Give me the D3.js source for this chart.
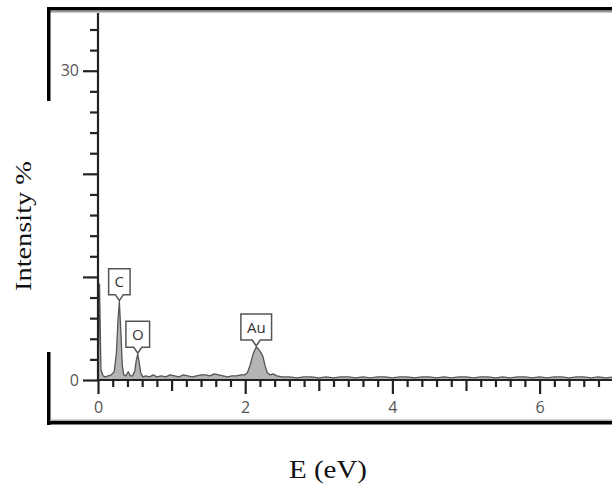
<!DOCTYPE html>
<html>
<head>
<meta charset="utf-8">
<script src="https://cdn.jsdelivr.net/npm/d3@7"></script>
<style>
  html, body { margin: 0; padding: 0; background: #fff; }
  svg { display: block; }
</style>
</head>
<body>
<svg id="chart" width="612" height="484"></svg>
<script>
// EDS spectrum: energy vs. intensity
const energy = [
  0.00, 0.02, 0.04, 0.07, 0.10, 0.14, 0.18, 0.22, 0.25, 0.27, 0.29, 0.31, 0.33, 0.35,
  0.38, 0.41, 0.44, 0.47, 0.50, 0.52, 0.54, 0.56, 0.58, 0.61, 0.65, 0.70, 0.75, 0.80,
  0.86, 0.92, 0.98, 1.04, 1.10, 1.16, 1.22, 1.28, 1.34, 1.40, 1.46, 1.52, 1.58, 1.64,
  1.70, 1.76, 1.82, 1.88, 1.94, 1.99, 2.03, 2.07, 2.11, 2.15, 2.18, 2.21, 2.24, 2.27,
  2.30, 2.34, 2.38, 2.43, 2.50, 2.60, 2.70, 2.80, 2.90, 3.00, 3.10, 3.20, 3.30, 3.40,
  3.50, 3.60, 3.70, 3.80, 3.90, 4.00, 4.10, 4.20, 4.30, 4.40, 4.50, 4.60, 4.70, 4.80,
  4.90, 5.00, 5.10, 5.20, 5.30, 5.40, 5.50, 5.60, 5.70, 5.80, 5.90, 6.00, 6.10, 6.20,
  6.30, 6.40, 6.50, 6.60, 6.70, 6.80, 6.90, 7.00
];
const intensity = [
  0.3, 9.3, 1.0, 0.4, 0.3, 0.4, 0.5, 0.8, 2.6, 5.6, 7.6, 4.8, 1.4, 0.5,
  0.4, 0.8, 0.4, 0.4, 0.9, 1.9, 2.5, 1.7, 0.7, 0.3, 0.4, 0.3, 0.5, 0.3,
  0.4, 0.3, 0.5, 0.4, 0.3, 0.5, 0.4, 0.3, 0.4, 0.5, 0.5, 0.4, 0.6, 0.5,
  0.4, 0.3, 0.4, 0.4, 0.5, 0.5, 0.7, 1.5, 2.6, 3.2, 3.0, 2.7, 2.3, 1.4,
  0.7, 0.5, 0.6, 0.4, 0.3, 0.3, 0.2, 0.3, 0.3, 0.2, 0.3, 0.2, 0.3, 0.3,
  0.2, 0.3, 0.2, 0.3, 0.3, 0.2, 0.3, 0.3, 0.2, 0.3, 0.3, 0.2, 0.3, 0.2,
  0.3, 0.3, 0.2, 0.3, 0.3, 0.2, 0.3, 0.2, 0.3, 0.3, 0.2, 0.3, 0.2, 0.3,
  0.3, 0.2, 0.3, 0.3, 0.2, 0.3, 0.2, 0.3
];

// Peak labels: element symbol and the index of its peak in the spectrum
const peakNames = ["C", "O", "Au"];
const peakIndex = [10, 20, 51];

const yTickValues = d3.range(0, 35, 2);
const yTickLabels = [0, 30];
const xTickValues = d3.range(0, 35).map(i => +(i * 0.2).toFixed(1));
const xTickLabels = [0, 2, 4, 6];

const svg = d3.select("#chart");

const x = d3.scaleLinear().domain([0, 7]).range([98, 613.2]);
const y = d3.scaleLinear().domain([0, 35.6]).range([380, 13]);

const data = energy.map((e, i) => ({ e, v: intensity[i] }));

// outer frame
const frame = svg.append("g");
frame.append("rect").attr("x", 47).attr("y", 7).attr("width", 570).attr("height", 3.5).attr("fill", "#000");
frame.append("rect").attr("x", 50).attr("y", 11).attr("width", 570).attr("height", 1.5).attr("fill", "#999");
frame.append("rect").attr("x", 47).attr("y", 7).attr("width", 3.5).attr("height", 94).attr("fill", "#000");
frame.append("rect").attr("x", 47).attr("y", 352).attr("width", 3.5).attr("height", 73).attr("fill", "#000");
frame.append("rect").attr("x", 47).attr("y", 421).attr("width", 570).attr("height", 3.5).attr("fill", "#000");
frame.append("rect").attr("x", 50).attr("y", 419.5).attr("width", 570).attr("height", 1.5).attr("fill", "#aaa");

// spectrum fill and outline
svg.append("path")
  .datum(data)
  .attr("fill", "#b4b4b4")
  .attr("d", d3.area().x(d => x(d.e)).y0(y(0)).y1(d => y(d.v)));
svg.append("path")
  .datum(data)
  .attr("fill", "none")
  .attr("stroke", "#555")
  .attr("stroke-width", 1.3)
  .attr("stroke-linejoin", "round")
  .attr("d", d3.line().x(d => x(d.e)).y(d => y(d.v)));

const tickFont = "'Open Sans', 'DejaVu Sans', sans-serif";

// y axis
const yAxis = d3.axisLeft(y)
  .tickValues(yTickValues)
  .tickSize(8)
  .tickPadding(4)
  .tickFormat(d => yTickLabels.includes(d) ? d : "");
const gy = svg.append("g").attr("transform", "translate(98,0)").call(yAxis);
gy.select(".domain").attr("d", `M0,${y(35.6)}V${y(0)}`).attr("stroke", "#222").attr("stroke-width", 2.2);
gy.selectAll(".tick line")
  .attr("stroke", "#222").attr("stroke-width", 2.2)
  .attr("x2", d => d % 10 === 0 ? -15 : -8);
gy.selectAll(".tick text")
  .attr("x", -19)
  .attr("fill", "#555")
  .style("font-family", tickFont)
  .style("font-size", "16px");

// x axis
const xAxis = d3.axisBottom(x)
  .tickValues(xTickValues)
  .tickSize(7)
  .tickPadding(4)
  .tickFormat(d => xTickLabels.includes(d) ? d : "");
const gx = svg.append("g").attr("transform", "translate(0,380)").call(xAxis);
gx.select(".domain").attr("d", `M${x(0) - 1},0H612`).attr("stroke", "#222").attr("stroke-width", 2.2);
gx.selectAll(".tick line")
  .attr("stroke", "#222").attr("stroke-width", 2.2)
  .attr("y2", d => {
    const r = Math.round(d * 10);
    if (r % 20 === 0) return 14;
    if (r % 10 === 0) return 11;
    return 7;
  });
gx.selectAll(".tick text")
  .attr("y", 22)
  .attr("fill", "#555")
  .style("font-family", tickFont)
  .style("font-size", "16px");

// peak callouts
const labels = svg.append("g");
peakNames.forEach((name, k) => {
  const d = data[peakIndex[k]];
  const px = x(d.e), py = y(d.v) - 1;
  const txt = labels.append("text")
    .attr("x", px).attr("text-anchor", "middle")
    .style("font-family", tickFont).style("font-size", "15px")
    .attr("fill", "#333")
    .text(name);
  const w = txt.node().getComputedTextLength() + 12;
  const h = 26;
  const bottom = py - 6;
  const top = bottom - h;
  txt.attr("y", top + h / 2 + 5.5);
  const l = px - w / 2, r = px + w / 2;
  labels.insert("path", "text")
    .attr("d", `M${l},${top}H${r}V${bottom}H${px + 4}L${px},${py}L${px - 4},${bottom}H${l}Z`)
    .attr("fill", "#fff")
    .attr("stroke", "#555")
    .attr("stroke-width", 1.5);
});

// axis titles
svg.append("text")
  .attr("transform", "translate(31,226) rotate(-90)")
  .attr("text-anchor", "middle")
  .attr("textLength", 130)
  .attr("lengthAdjust", "spacingAndGlyphs")
  .style("font-family", "'Liberation Serif', 'Times New Roman', serif")
  .style("font-size", "24px")
  .attr("fill", "#111")
  .text("Intensity %");
svg.append("text")
  .attr("x", 328).attr("y", 478)
  .attr("text-anchor", "middle")
  .attr("textLength", 78)
  .attr("lengthAdjust", "spacingAndGlyphs")
  .style("font-family", "'Liberation Serif', 'Times New Roman', serif")
  .style("font-size", "26px")
  .attr("fill", "#111")
  .text("E (eV)");
</script>
</body>
</html>
